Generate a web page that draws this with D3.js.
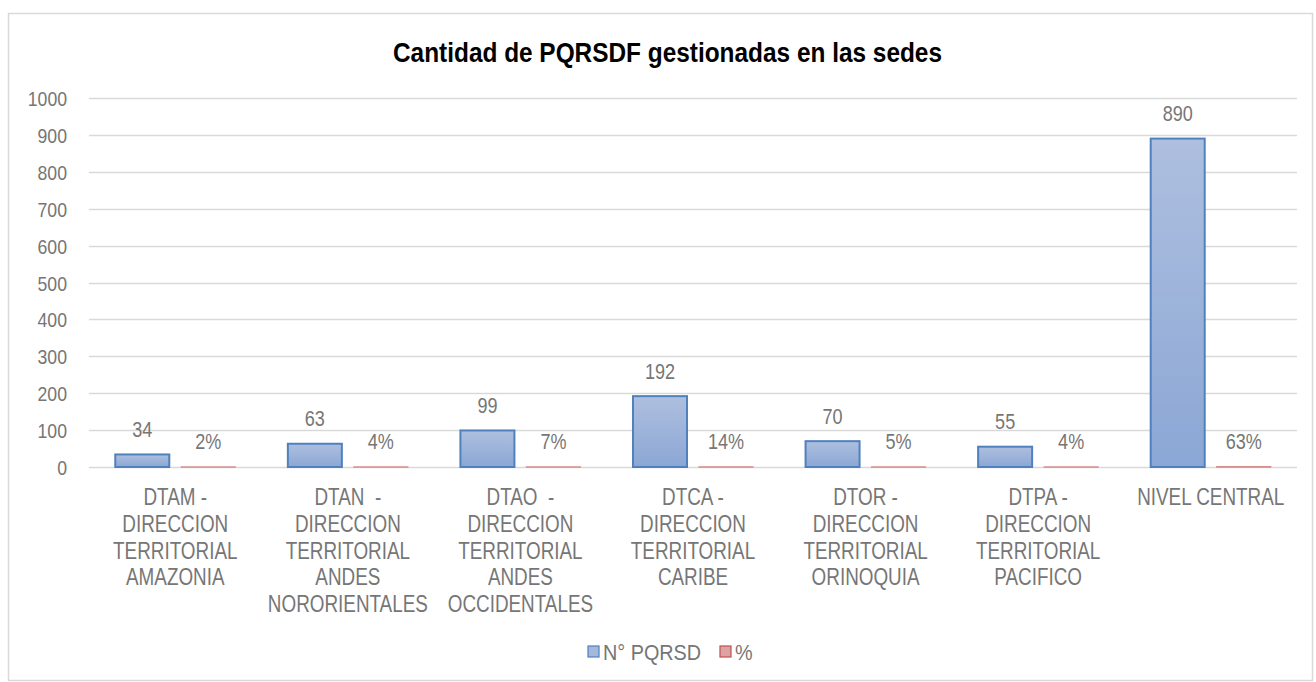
<!DOCTYPE html>
<html><head><meta charset="utf-8">
<script src="https://cdn.jsdelivr.net/npm/d3@7"></script>
<style>
html,body{margin:0;padding:0;background:#fff;}
text{font-family:"Liberation Sans Narrow","Arial Narrow","Liberation Sans",Arial,sans-serif;}
</style></head>
<body>
<svg id="chart" width="1316" height="682"></svg>
<script>
const title = "Cantidad de PQRSDF gestionadas en las sedes";
const categories = [
  "DTAM -|DIRECCION|TERRITORIAL|AMAZONIA",
  "DTAN  -|DIRECCION|TERRITORIAL|ANDES|NORORIENTALES",
  "DTAO  -|DIRECCION|TERRITORIAL|ANDES|OCCIDENTALES",
  "DTCA -|DIRECCION|TERRITORIAL|CARIBE",
  "DTOR -|DIRECCION|TERRITORIAL|ORINOQUIA",
  "DTPA -|DIRECCION|TERRITORIAL|PACIFICO",
  "NIVEL CENTRAL"
];
const seriesNames = ["N° PQRSD", "%"];
const countValues = [34, 63, 99, 192, 70, 55, 890];
const pctValues = [0.02, 0.04, 0.07, 0.14, 0.05, 0.04, 0.63];
const yTicks = [0,100,200,300,400,500,600,700,800,900,1000];

const svg = d3.select("#chart");
const pLeft = 89, pRight = 1297, pTop = 98, pBottom = 467;
const textColor = "#767676";
const NARROW = 0.82;

// squeeze text horizontally to mimic a narrow face
function narrow(sel, f) {
  sel.each(function() {
    const len = this.getComputedTextLength();
    if (len > 0) {
      d3.select(this).attr("textLength", len * (f || NARROW)).attr("lengthAdjust", "spacingAndGlyphs");
    }
  });
}

// border
svg.append("rect").attr("x",8.5).attr("y",13.5).attr("width",1304).attr("height",667)
  .attr("fill","#fff").attr("stroke","#d9d9d9").attr("stroke-width",1.5);

const defs = svg.append("defs");
const gB = defs.append("linearGradient").attr("id","gBlue").attr("x1",0).attr("y1",0).attr("x2",0).attr("y2",1);
gB.append("stop").attr("offset","0%").attr("stop-color","#aebfdf");
gB.append("stop").attr("offset","100%").attr("stop-color","#8ba7d5");
const gR = defs.append("linearGradient").attr("id","gRed").attr("x1",0).attr("y1",0).attr("x2",0).attr("y2",1);
gR.append("stop").attr("offset","0%").attr("stop-color","#e0a9a8");
gR.append("stop").attr("offset","100%").attr("stop-color","#d58d8b");

const y = d3.scaleLinear().domain([0,1000]).range([pBottom, pTop]);
const x0 = d3.scaleBand().domain(categories).range([pLeft, pRight]).padding(0);
const x1 = d3.scaleBand().domain(seriesNames).range([0, x0.bandwidth()])
  .paddingInner(12/66).paddingOuter(0.398);

// title
const tt = svg.append("text").attr("x", 667.5).attr("y", 62).attr("text-anchor","middle")
  .attr("font-size", 28).attr("font-weight","bold").attr("fill","#000").text(title);
tt.attr("textLength", 549).attr("lengthAdjust","spacingAndGlyphs");

// gridlines
svg.append("g").selectAll("line").data(yTicks).join("line")
  .attr("x1", pLeft).attr("x2", pRight)
  .attr("y1", d => Math.round(y(d))+0.5).attr("y2", d => Math.round(y(d))+0.5)
  .attr("stroke","#d9d9d9").attr("stroke-width",1.5);

// y axis labels
const yAxis = d3.axisLeft(y).tickValues(yTicks).tickFormat(d3.format("d")).tickSize(0).tickPadding(0);
const ya = svg.append("g").attr("transform","translate(67,0)").call(yAxis);
ya.select(".domain").remove();
ya.attr("font-family",null).attr("font-size",null);
ya.selectAll("text").attr("font-size",21).attr("fill",textColor).attr("dy","0.36em");
narrow(ya.selectAll("text"), 0.84);

const data = categories.map((c,i)=>({cat:c, vals:[
  {s:seriesNames[0], v:countValues[i], lab: String(countValues[i])},
  {s:seriesNames[1], v:pctValues[i], lab: Math.round(pctValues[i]*100)+"%"}
]}));

const groups = svg.append("g").selectAll("g").data(data).join("g")
  .attr("transform", d => `translate(${x0(d.cat)},0)`);

groups.selectAll("rect").data(d=>d.vals).join("rect")
  .attr("x", d => x1(d.s)).attr("width", x1.bandwidth())
  .attr("y", d => y(d.v)).attr("height", d => Math.max(0, y(0)-y(d.v)))
  .attr("fill", (d,i) => i===0 ? "url(#gBlue)" : "url(#gRed)")
  .attr("stroke", (d,i) => i===0 ? "#4f81bd" : "#d07b79")
  .attr("stroke-width", (d,i)=> i===0 ? 2 : 1.2);

const vals = groups.selectAll("text.val").data(d=>d.vals).join("text").attr("class","val")
  .attr("x", d => x1(d.s) + x1.bandwidth()/2)
  .attr("y", d => y(d.v) - 17.5)
  .attr("text-anchor","middle").attr("font-size",22).attr("fill",textColor)
  .text(d => d.lab);
narrow(vals);

// category labels
const xl = svg.append("g");
categories.forEach(c => {
  const lines = c.split("|");
  const cx = x0(c)+x0.bandwidth()/2;
  const t = xl.append("text").attr("x", cx).attr("y", 505)
    .attr("text-anchor","middle").attr("font-size",23).attr("fill",textColor)
    .attr("xml:space","preserve");
  lines.forEach((ln,k)=> t.append("tspan").attr("x", cx)
    .attr("y", 505 + k*26.8).text(ln));
});
narrow(xl.selectAll("tspan"));

// legend
const leg = svg.append("g");
const legItems = [
  {name: seriesNames[0], x: 588, fill:"#a3b8dd", stroke:"#4f81bd"},
  {name: seriesNames[1], x: 720, fill:"#dba3a2", stroke:"#c0504d"}
];
legItems.forEach(it=>{
  leg.append("rect").attr("x", it.x).attr("y", 646).attr("width",11).attr("height",11)
    .attr("fill", it.fill).attr("stroke", it.stroke).attr("stroke-width",1.2);
  leg.append("text").attr("x", it.x+15).attr("y", 660).attr("font-size",22)
    .attr("fill",textColor).text(it.name);
});
narrow(leg.selectAll("text"), 0.9);
</script>
</body></html>
